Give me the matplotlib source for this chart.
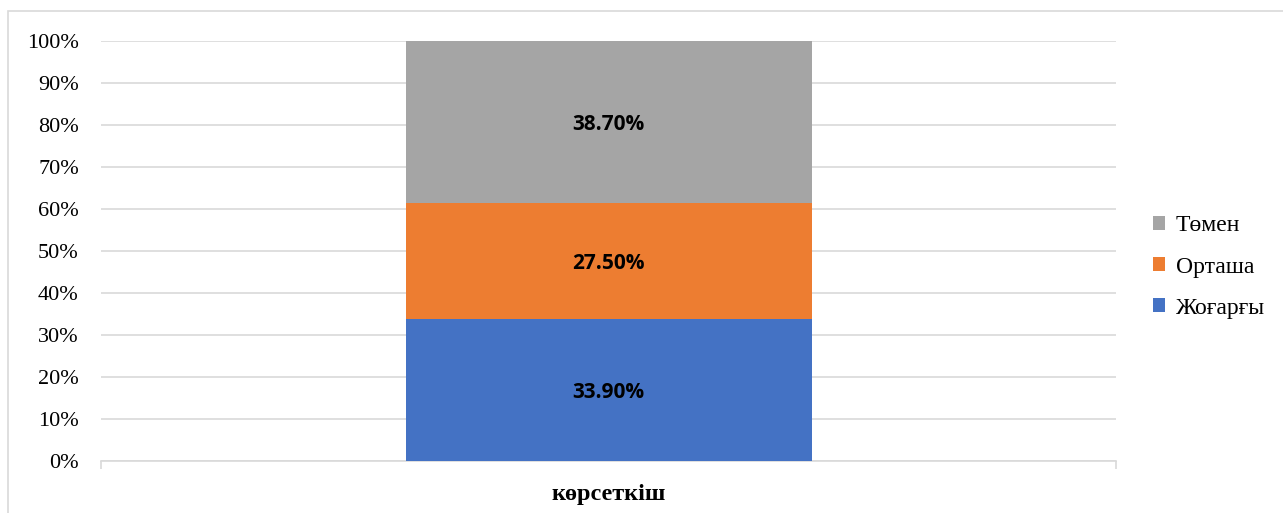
import matplotlib
matplotlib.use("Agg")
import matplotlib.pyplot as plt
from matplotlib.patches import Rectangle
from matplotlib.ticker import FuncFormatter, MultipleLocator

categories = ["көрсеткіш"]
series_names = ["Жоғарғы", "Орташа", "Төмен"]
values = [33.9, 27.5, 38.7]
colors = ["#4472C4", "#ED7D31", "#A5A5A5"]

fig = plt.figure(figsize=(12.83, 5.13), dpi=100)
ax = fig.add_axes([101/1283, 1-461/513, (1116-101)/1283, (461-41)/513])

# outer chart border
fig.patches.append(Rectangle((8/1283, -0.1), 1.2, 1-11/513+0.1, transform=fig.transFigure,
                             fill=False, edgecolor="#D9D9D9", linewidth=1.2))

bottom = 0.0
handles = []
for name, v, c in zip(series_names, values, colors):
    b = ax.bar(0, v, width=0.4, bottom=bottom, color=c, label=name, zorder=3)
    handles.append(b)
    ax.text(0, bottom + v/2, f"{v:.2f}%", ha="center", va="center_baseline",
            fontsize=15, fontweight="bold", family="Open Sans", color="black", zorder=4)
    bottom += v

ax.set_xlim(-0.5, 0.5)
ax.set_ylim(0, 100)
ax.yaxis.set_major_locator(MultipleLocator(10))
ax.yaxis.set_major_formatter(FuncFormatter(lambda y, p: f"{int(round(y))}%"))
ax.grid(axis="y", color="#D9D9D9", linewidth=1.2, zorder=0)
for s in ["top", "right", "left"]:
    ax.spines[s].set_visible(False)
ax.spines["bottom"].set_color("#D9D9D9")
ax.spines["bottom"].set_linewidth(1.2)
ax.tick_params(axis="y", length=0, pad=16, labelsize=16)
ax.set_xticks([-0.5, 0.5])
ax.set_xticklabels(["", ""])
ax.tick_params(axis="x", length=6, color="#D9D9D9", width=1.2)
for lab in ax.get_yticklabels():
    lab.set_family("Liberation Serif")
ax.text(0, -0.08, categories[0], transform=ax.get_xaxis_transform(), ha="center", va="center",
        fontsize=17.5, fontweight="bold", family="Liberation Serif")

leg = fig.legend(handles[::-1], series_names[::-1], loc="center left",
                 bbox_to_anchor=(1132/1283, 1-267/513), frameon=False,
                 prop={"family": "Liberation Serif", "size": 17},
                 handlelength=0.5, handleheight=0.5, handletextpad=0.45, labelspacing=0.85)

fig.savefig("out.png", dpi=100)
